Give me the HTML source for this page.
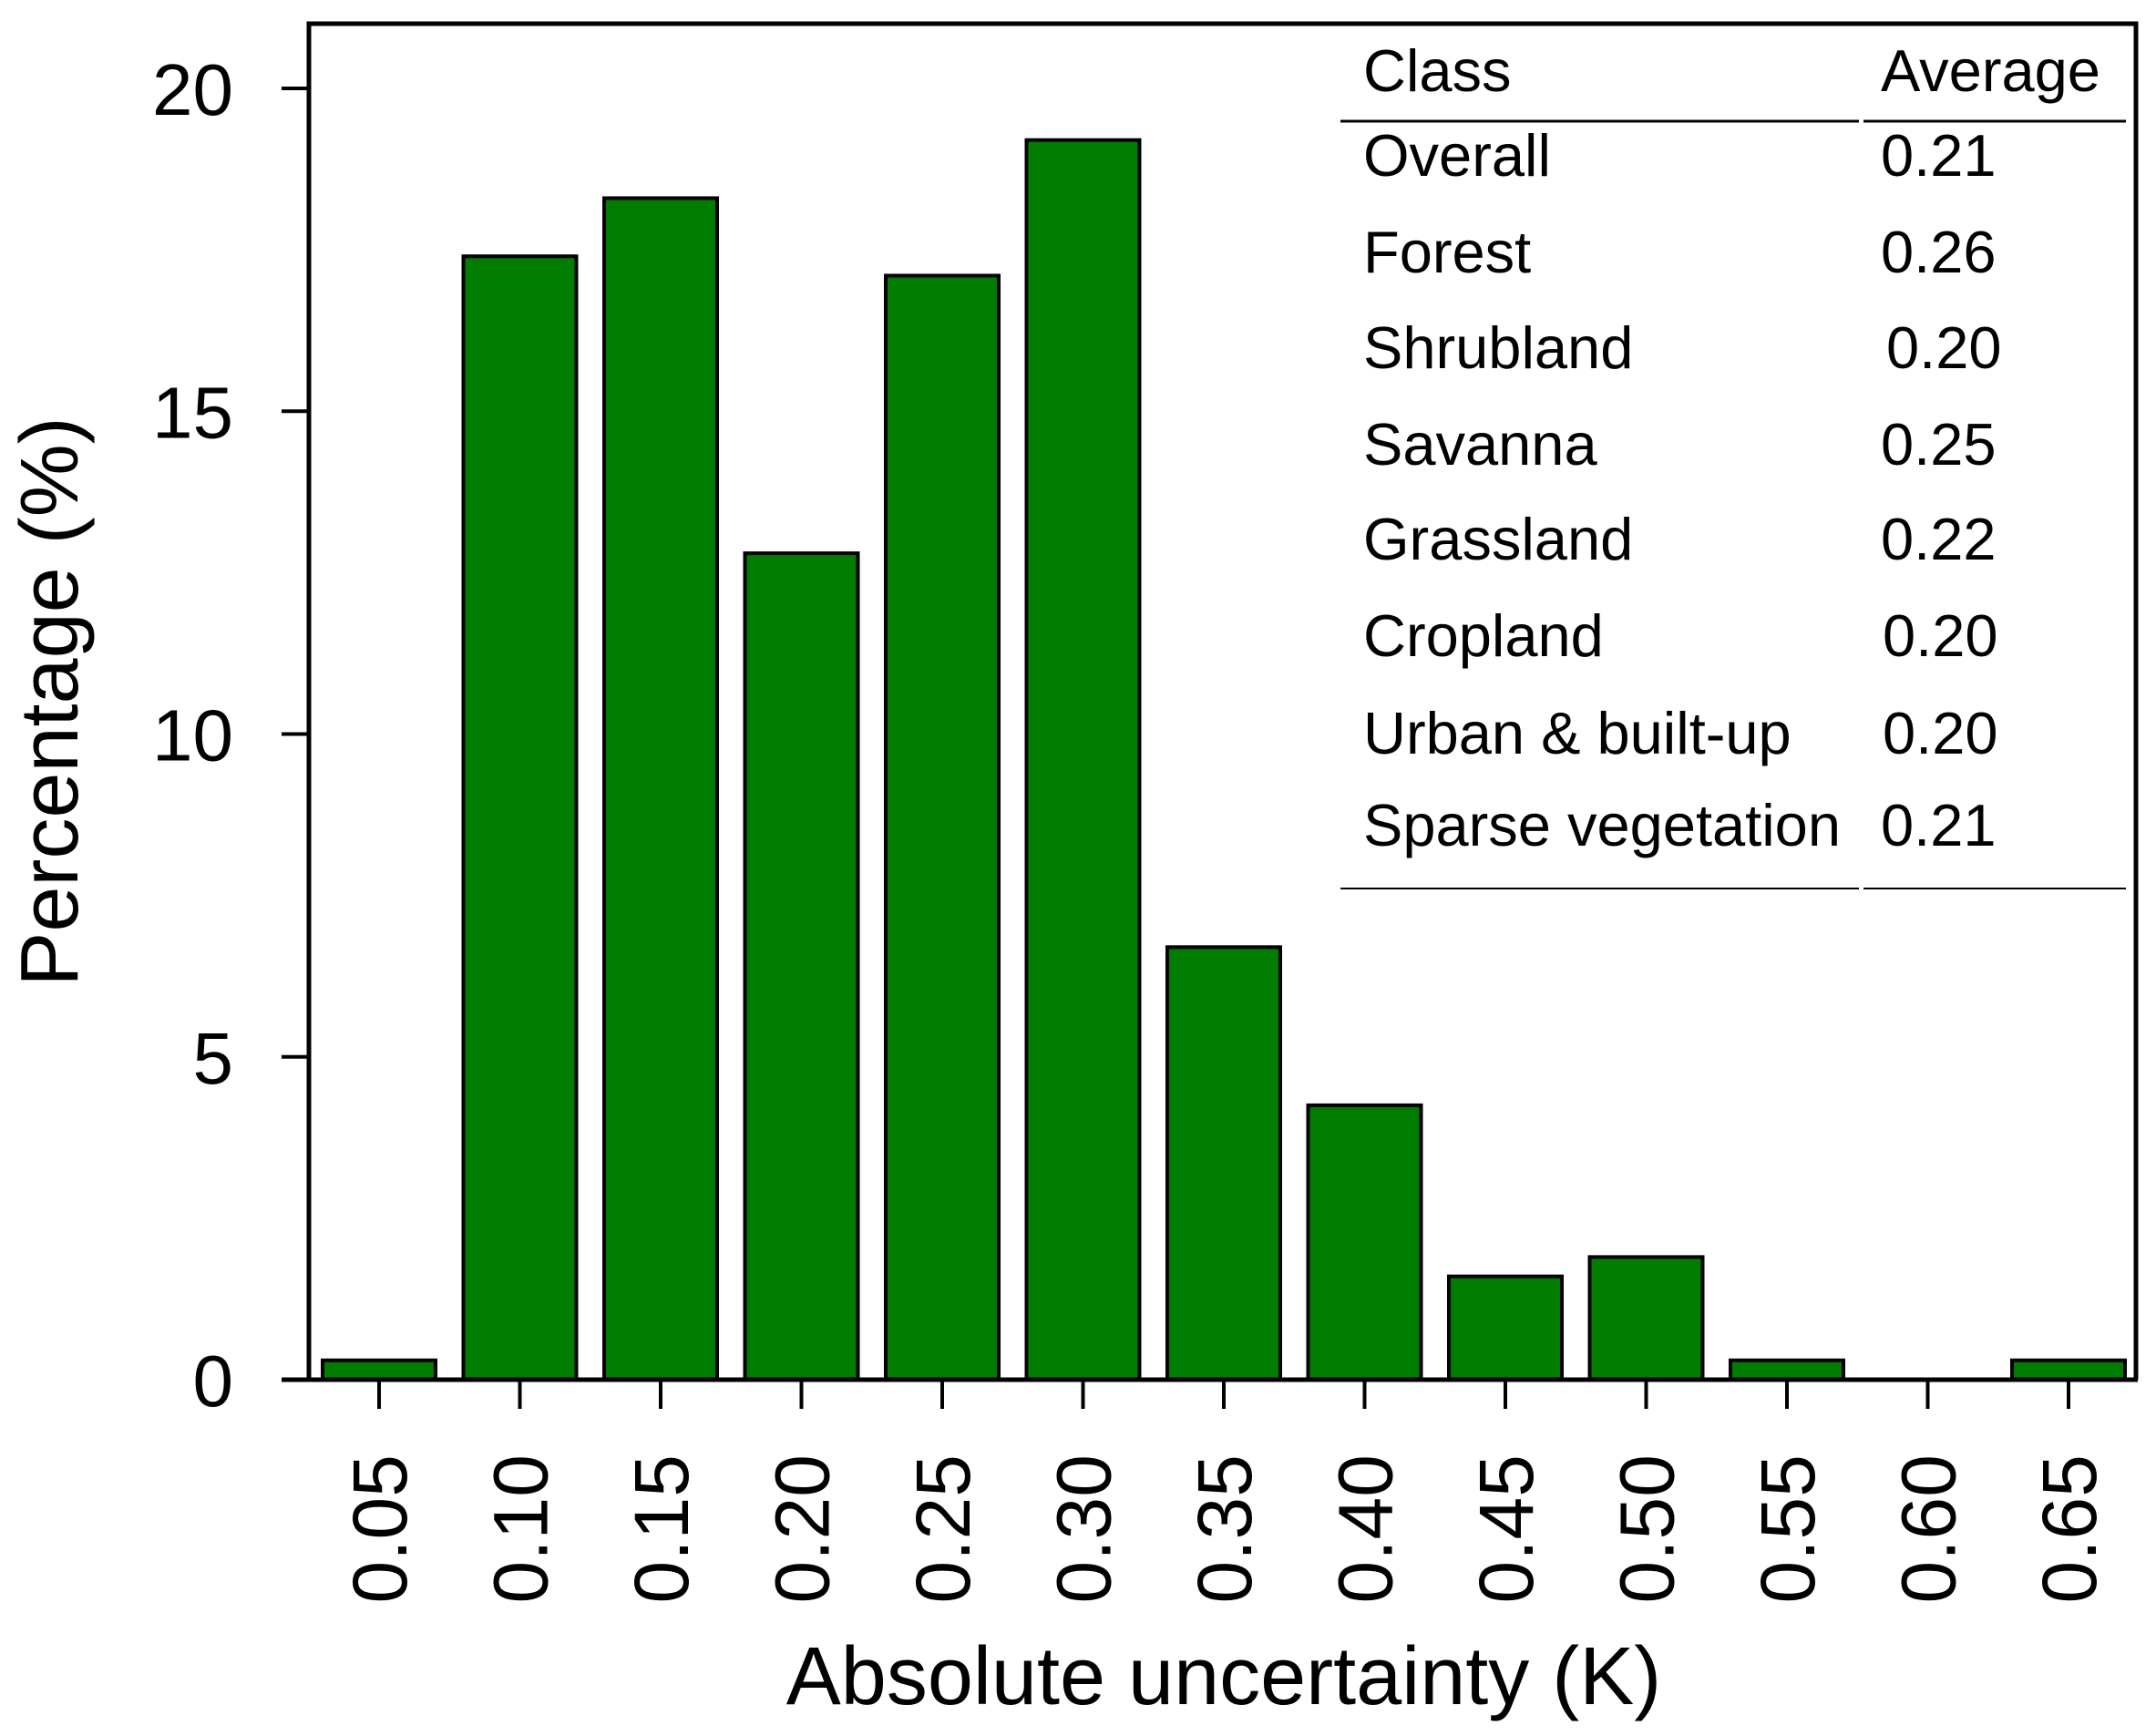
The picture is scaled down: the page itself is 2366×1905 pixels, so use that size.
<!DOCTYPE html>
<html><head><meta charset="utf-8">
<style>
html,body{margin:0;padding:0;background:#fff;}
svg{display:block;font-family:"Liberation Sans",Arial,sans-serif;}
</style></head>
<body>
<svg id="chart" width="2366" height="1905" viewBox="0 0 2366 1905">
<g id="bars"></g>
<g id="axes"></g>
<g id="legend"></g>
</svg>
<script>
const categories = ["0.05","0.10","0.15","0.20","0.25","0.30","0.35","0.40","0.45","0.50","0.55","0.60","0.65"];
const percentages = [0.3, 17.4, 18.3, 12.8, 17.1, 19.2, 6.7, 4.25, 1.6, 1.9, 0.3, 0, 0.3];
const yTicks = [0, 5, 10, 15, 20];
const classNames = ["Overall","Forest","Shrubland","Savanna","Grassland","Cropland","Urban & built-up","Sparse vegetation"];
const classAverages = ["0.21","0.26","0.20","0.25","0.22","0.20","0.20","0.21"];

const NS = "http://www.w3.org/2000/svg";
function mk(tag, attrs, parent){const e=document.createElementNS(NS,tag);for(const k in attrs)e.setAttribute(k,attrs[k]);parent.appendChild(e);return e;}
const y0=1514, yUnit=(1514-97)/20;
function yScale(v){return y0 - v*yUnit;}
function xScale(i){return 416 + 154.5*i;}
const bw=124;

const barsG=document.getElementById('bars');
percentages.forEach((v,i)=>{
  if(v<=0) return;
  const r=mk('rect',{x:xScale(i)-bw/2,y:yScale(v),width:bw,height:y0-yScale(v),fill:'#007c00',stroke:'#000','stroke-width':4},barsG);
  
  
});

const ax=document.getElementById('axes');
const box=mk('path',{d:'M339 1514 L339 26 L2344 26 L2344 1514',fill:'none',stroke:'#000','stroke-width':5},ax);


const xl=mk('line',{x1:309,y1:y0,x2:2346,y2:y0,stroke:'#000','stroke-width':5},ax);


yTicks.forEach(t=>{
  const y=yScale(t);
  const l=mk('line',{x1:309,y1:y,x2:339,y2:y,stroke:'#000','stroke-width':4},ax);
  
  
  const tx=mk('text',{x:256,y:y+29,'font-size':80,'text-anchor':'end',fill:'#000'},ax);
  tx.textContent=t;
  
  
});
categories.forEach((c,i)=>{
  const x=xScale(i);
  const l=mk('line',{x1:x,y1:y0,x2:x,y2:1546,stroke:'#000','stroke-width':4},ax);
  
  
  const tx=mk('text',{x:0,y:0,'font-size':84,'text-anchor':'end',fill:'#000',transform:'translate('+(x+30)+',1596) rotate(-90)'},ax);
  tx.textContent=c;
  
  
});
const xt=mk('text',{x:1343,y:1870,'font-size':90,'text-anchor':'middle',fill:'#000'},ax);
xt.textContent='Absolute uncertainty (K)';


const yt=mk('text',{x:0,y:0,'font-size':90,'text-anchor':'middle',fill:'#000',transform:'translate(85,770) rotate(-90)'},ax);
yt.textContent='Percentage (%)';



const lg=document.getElementById('legend');
function txt(s,x,y,name){const t=mk('text',{x:x,y:y,'font-size':65,fill:'#000'},lg);t.textContent=s;return t;}
txt('Class',1496,100,'table-header-class');
txt('Average',2064,100,'table-header-average');
const hl1=mk('line',{x1:1471,y1:133,x2:2040,y2:133,stroke:'#000','stroke-width':3},lg);


const hl2=mk('line',{x1:2045,y1:133,x2:2333,y2:133,stroke:'#000','stroke-width':3},lg);


const rowY=[193,299,404,510,614,720,827,928];
const avgX=[2064,2064,2070,2064,2064,2066,2066,2064];
classNames.forEach((n,i)=>{
  txt(n,1496,rowY[i],'table-class-'+i);
  txt(classAverages[i],avgX[i],rowY[i],'table-average-'+i);
});
const bl1=mk('line',{x1:1471,y1:975,x2:2040,y2:975,stroke:'#000','stroke-width':2},lg);


const bl2=mk('line',{x1:2045,y1:975,x2:2333,y2:975,stroke:'#000','stroke-width':2},lg);


</script>
</body></html>
